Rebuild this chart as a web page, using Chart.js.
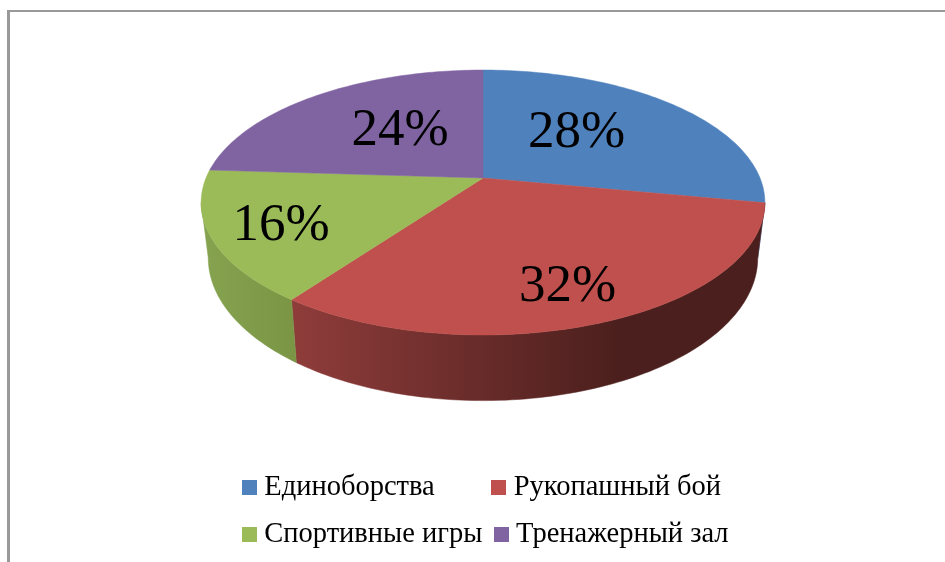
<!DOCTYPE html>
<html>
<head>
<meta charset="utf-8">
<title>Pie</title>
<style>
  html, body { margin: 0; padding: 0; background: #fff; }
  #wrap { width: 945px; height: 562px; }
</style>
<script src="https://cdn.jsdelivr.net/npm/chart.js@4/dist/chart.umd.js"></script>
</head>
<body>
<div id="wrap"><canvas id="pie" width="945" height="562"></canvas></div>
<script>
// data
const categories = ['Единоборства', 'Рукопашный бой', 'Спортивные игры', 'Тренажерный зал'];
const shares = [28, 32, 16, 24];
const colors = ['#4f81bd', '#c0504d', '#9bbb59', '#8064a2'];

// padding so the second legend column lines up
const legendPad = '\u00a0'.repeat(6) + '\u200a';

// perspective of the tilted disc: rim = top face, base = bottom face
const tilt = 0.185;
const top_ = { cx: 483, r: 277, a: 95, b: 178 };
const base = { cx: 483, r: 270, a: 95, b: 231.5 };

function project(f, theta, frac) {
  const x = Math.cos(theta) * frac, y = Math.sin(theta) * frac;
  const d = 1 - tilt * y;
  return [f.cx + f.r * x / d, (f.a * y + f.b) / d];
}

function rimPoints(f, from, to) {
  const pts = [];
  const n = Math.max(2, Math.ceil(Math.abs(to - from) / 0.02));
  for (let i = 0; i <= n; i++) {
    pts.push(project(f, from + (to - from) * i / n, 1));
  }
  return pts;
}

function tracePath(ctx, pts) {
  ctx.beginPath();
  pts.forEach((p, i) => i ? ctx.lineTo(p[0], p[1]) : ctx.moveTo(p[0], p[1]));
  ctx.closePath();
}

// wall shading per slice, only red and green show at the front
function wallFill(ctx, i) {
  if (i === 1) {
    const g = ctx.createLinearGradient(296, 0, 620, 0);
    g.addColorStop(0, '#8e3c3a');
    g.addColorStop(1, '#4b1f1d');
    return g;
  }
  if (i === 2) {
    const g = ctx.createLinearGradient(201, 0, 296, 0);
    g.addColorStop(0, '#86a350');
    g.addColorStop(1, '#7a9645');
    return g;
  }
  return colors[i];
}

const disc3d = {
  id: 'disc3d',
  beforeDraw(chart) {
    // frame of the picture, left and top only
    const ctx = chart.ctx;
    ctx.save();
    ctx.fillStyle = '#999999';
    ctx.fillRect(7, 10, 3, 552);
    ctx.fillRect(7, 10, 938, 2);
    ctx.restore();
  },
  beforeDatasetDraw(chart) {
    const ctx = chart.ctx;
    const arcs = chart.getDatasetMeta(0).data;
    const vFrom = Math.asin(tilt), vTo = Math.PI - Math.asin(tilt);
    ctx.save();

    // side wall
    arcs.forEach((arc, i) => {
      const from = Math.max(arc.startAngle, vFrom), to = Math.min(arc.endAngle, vTo);
      if (to <= from) return;
      const pts = rimPoints(top_, from, to).concat(rimPoints(base, to, from));
      tracePath(ctx, pts);
      ctx.fillStyle = ctx.strokeStyle = wallFill(ctx, i);
      ctx.lineWidth = 0.5;
      ctx.fill();
      ctx.stroke();
    });

    // top face
    arcs.forEach((arc, i) => {
      tracePath(ctx, [[top_.cx, top_.b]].concat(rimPoints(top_, arc.startAngle, arc.endAngle)));
      ctx.fillStyle = ctx.strokeStyle = colors[i];
      ctx.lineWidth = 0.5;
      ctx.fill();
      ctx.stroke();
    });

    // percent labels
    const spots = [[576.5, 147], [567.5, 301], [281, 240], [400, 145]];
    ctx.fillStyle = '#000';
    ctx.font = '53px "Liberation Serif"';
    ctx.textAlign = 'center';
    ctx.textBaseline = 'alphabetic';
    shares.forEach((v, i) => ctx.fillText(v + '%', spots[i][0], spots[i][1]));

    ctx.restore();
    return false; // arcs are already painted
  }
};

function swatch(color) {
  const c = document.createElement('canvas');
  c.width = c.height = 15;
  const g = c.getContext('2d');
  g.fillStyle = color;
  g.fillRect(0, 0, 15, 15);
  return c;
}

new Chart(document.getElementById('pie'), {
  type: 'pie',
  data: {
    labels: categories,
    datasets: [{ data: shares, backgroundColor: colors, borderWidth: 0 }]
  },
  options: {
    responsive: false,
    animation: false,
    layout: { padding: { left: 230.5, right: 114, bottom: 3 } },
    plugins: {
      tooltip: { enabled: false },
      legend: {
        position: 'bottom',
        align: 'start',
        onClick: null,
        labels: {
          usePointStyle: true,
          boxWidth: 1,
          padding: 18.5,
          color: '#000',
          font: { family: '"Liberation Serif"', size: 28.5 },
          generateLabels: () => categories.map((name, i) => ({
            text: i === 0 ? name + legendPad : name,
            pointStyle: swatch(colors[i]),
            fillStyle: colors[i],
            strokeStyle: colors[i],
            lineWidth: 0,
            hidden: false,
            index: i
          }))
        }
      }
    }
  },
  plugins: [disc3d]
});
</script>
</body>
</html>
